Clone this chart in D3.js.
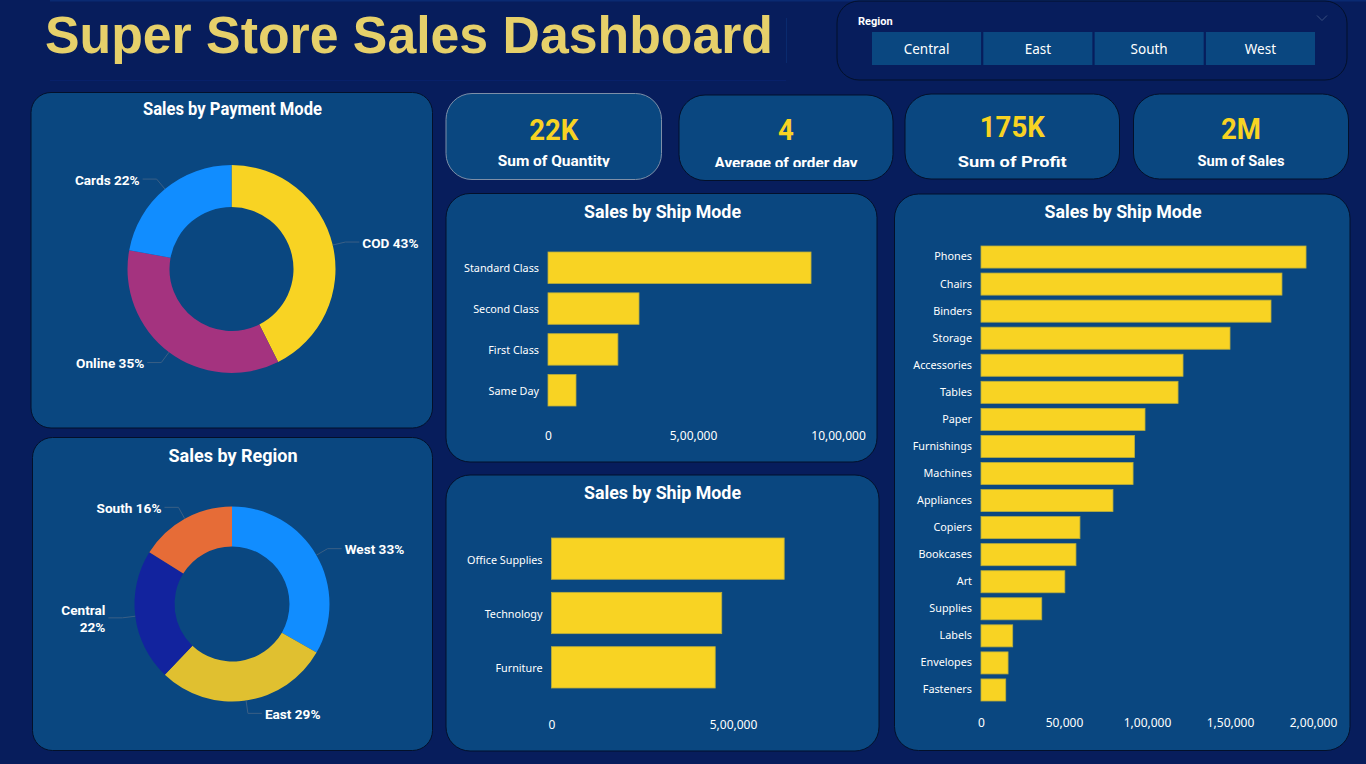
<!DOCTYPE html>
<html>
<head>
<meta charset="utf-8">
<title>Super Store Sales Dashboard</title>
<script src="https://cdn.jsdelivr.net/npm/d3@7"></script>
<style>
  html, body { margin: 0; padding: 0; background: #071d5c; overflow: hidden; }
  svg { display: block; }
  .axis text { font-family: "Noto Sans", sans-serif; fill: #ffffff; }
  .axis path, .axis line { display: none; }
</style>
</head>
<body>
<svg id="board" width="1366" height="764"></svg>
<script>
// chart data
var regionButtons = ['Central', 'East', 'South', 'West'];

var kpiValues = ['22K', '4', '175K', '2M'];
var kpiNames = ['Sum of Quantity', 'Average of order day', 'Sum of Profit', 'Sum of Sales'];

var paymentModes = ['COD', 'Online', 'Cards'];
var paymentShares = [42.6, 35.3, 22.1];

var regions = ['West', 'East', 'Central', 'South'];
var regionShares = [33.3, 28.8, 21.8, 16.1];

var shipModes = ['Standard Class', 'Second Class', 'First Class', 'Same Day'];
var shipSales = [907000, 313800, 241000, 96500];
var shipTicks = [0, 500000, 1000000];
var shipTickLabels = ['0', '5,00,000', '10,00,000'];

var categories = ['Office Supplies', 'Technology', 'Furniture'];
var categorySales = [641000, 469000, 451000];
var categoryTicks = [0, 500000];
var categoryTickLabels = ['0', '5,00,000'];

var subCategories = ['Phones', 'Chairs', 'Binders', 'Storage', 'Accessories', 'Tables', 'Paper', 'Furnishings',
  'Machines', 'Appliances', 'Copiers', 'Bookcases', 'Art', 'Supplies', 'Labels', 'Envelopes', 'Fasteners'];
var subCategorySales = [195800, 181300, 174700, 150000, 121700, 118700, 98800, 92500,
  91600, 79500, 59600, 57200, 50500, 36600, 19100, 16300, 14900];
var subCategoryTicks = [0, 50000, 100000, 150000, 200000];
var subCategoryTickLabels = ['0', '50,000', '1,00,000', '1,50,000', '2,00,000'];

// colours
var CARD = '#0a4780';
var PAGE = '#071d5c';
var YELLOW = '#f8d323';
var HEAD_FONT = 'Roboto, sans-serif';

var svg = d3.select('#board');
var defs = svg.append('defs');

function card(x0, y0, x1, y1, r, stroke) {
  svg.append('rect')
    .attr('x', x0).attr('y', y0)
    .attr('width', x1 - x0).attr('height', y1 - y0)
    .attr('rx', r).attr('ry', r)
    .attr('fill', CARD)
    .attr('stroke', stroke || '#03102a')
    .attr('stroke-width', 1);
}

function heading(text, cx, y, width) {
  svg.append('text')
    .attr('x', cx).attr('y', y)
    .attr('text-anchor', 'middle')
    .attr('font-family', HEAD_FONT)
    .attr('font-weight', 700)
    .attr('font-size', 18)
    .attr('fill', '#ffffff')
    .attr('textLength', width)
    .attr('lengthAdjust', 'spacingAndGlyphs')
    .text(text);
}

/* title strip, only faint edges show in the original */
svg.append('rect')
  .attr('x', 50).attr('y', 0).attr('width', 1316).attr('height', 1.5)
  .attr('fill', '#0a2a72');
svg.append('path')
  .attr('d', 'M50,80.5H786')
  .attr('fill', 'none').attr('stroke', '#08216a').attr('stroke-width', 1);
svg.append('path')
  .attr('d', 'M786.5,18V63')
  .attr('fill', 'none').attr('stroke', '#0a2a6e').attr('stroke-width', 1);

svg.append('text')
  .attr('x', 45).attr('y', 53)
  .attr('font-family', '"Liberation Sans", Arial, sans-serif')
  .attr('font-weight', 700)
  .attr('font-size', 51)
  .attr('fill', '#e6d06a')
  .attr('textLength', 728)
  .attr('lengthAdjust', 'spacingAndGlyphs')
  .text('Super Store Sales Dashboard');

/* region slicer */
svg.append('rect')
  .attr('x', 837).attr('y', 1).attr('width', 510).attr('height', 79)
  .attr('rx', 22).attr('ry', 22)
  .attr('fill', PAGE).attr('stroke', '#03102a');

svg.append('text')
  .attr('x', 858).attr('y', 25)
  .attr('font-family', HEAD_FONT).attr('font-weight', 700).attr('font-size', 11)
  .attr('fill', '#ffffff')
  .text('Region');

svg.append('path')
  .attr('d', 'M1317,15.5L1322,20.5L1327,15.5')
  .attr('fill', 'none').attr('stroke', '#3a5080').attr('stroke-width', 1);

var buttonX = d3.scaleBand().domain(regionButtons).range([872, 1315]).paddingInner(0.02);
regionButtons.forEach(function (name) {
  svg.append('rect')
    .attr('x', buttonX(name)).attr('y', 32)
    .attr('width', buttonX.bandwidth()).attr('height', 33)
    .attr('fill', CARD);
  svg.append('text')
    .attr('x', buttonX(name) + buttonX.bandwidth() / 2).attr('y', 54)
    .attr('text-anchor', 'middle')
    .attr('font-family', '"Noto Sans", sans-serif').attr('font-size', 13.5)
    .attr('fill', '#ffffff')
    .text(name);
});

/* kpi cards */
var kpiBoxes = [
  { x0: 446, x1: 661.5, y0: 93.5, y1: 179.5, stroke: '#7d8fa8', w: 112, vy: 140, ly: 166 },
  { x0: 679, x1: 893, y0: 95, y1: 180.5, w: 143, vy: 140, ly: 167.5 },
  { x0: 905, x1: 1119.5, y0: 94, y1: 179, w: 109, vy: 137, ly: 167 },
  { x0: 1133.5, x1: 1348.5, y0: 94, y1: 179, w: 87, vy: 139, ly: 166 }
];

kpiBoxes.forEach(function (b, i) {
  var cx = (b.x0 + b.x1) / 2;
  card(b.x0, b.y0, b.x1, b.y1, 26, b.stroke);

  // the label sits partly outside the visual in the original, so it gets cut off
  defs.append('clipPath').attr('id', 'kpi-clip-' + i)
    .append('rect')
    .attr('x', b.x0).attr('y', b.y0)
    .attr('width', b.x1 - b.x0).attr('height', 167 - b.y0);

  var value = svg.append('text')
    .attr('x', cx).attr('y', b.vy)
    .attr('text-anchor', 'middle')
    .attr('font-family', HEAD_FONT).attr('font-weight', 700).attr('font-size', 30)
    .attr('fill', YELLOW)
    .text(kpiValues[i]);
  // the original face is narrower than Roboto
  value.attr('textLength', value.node().getComputedTextLength() * 0.92)
    .attr('lengthAdjust', 'spacingAndGlyphs');

  svg.append('text')
    .attr('x', cx).attr('y', b.ly)
    .attr('clip-path', 'url(#kpi-clip-' + i + ')')
    .attr('text-anchor', 'middle')
    .attr('font-family', HEAD_FONT).attr('font-weight', 700).attr('font-size', 14)
    .attr('fill', '#ffffff')
    .attr('textLength', b.w)
    .attr('lengthAdjust', 'spacingAndGlyphs')
    .text(kpiNames[i]);
});

/* donuts */
function donut(opts) {
  var g = svg.append('g').attr('transform', 'translate(' + opts.cx + ',' + opts.cy + ')');
  var total = d3.sum(opts.values);
  var pie = d3.pie().sort(null);
  var slices = pie(opts.values);
  var arc = d3.arc().innerRadius(opts.inner).outerRadius(opts.outer);
  var edge = d3.arc().innerRadius(opts.outer).outerRadius(opts.outer);
  var bend = d3.arc().innerRadius(opts.outer + 13).outerRadius(opts.outer + 13);

  g.selectAll('path.slice').data(slices).enter().append('path')
    .attr('class', 'slice')
    .attr('d', arc)
    .attr('fill', function (d, i) { return opts.colors[i]; });

  slices.forEach(function (d, i) {
    var a = edge.centroid(d);
    var b = bend.centroid(d);
    var side = b[0] >= 0 ? 1 : -1;
    var endX = b[0] + side * 14;
    var pct = Math.round(d.value / total * 100) + '%';
    var name = opts.names[i];

    g.append('polyline')
      .attr('points', [a, b, [endX, b[1]]].join(' '))
      .attr('fill', 'none')
      .attr('stroke', '#3a5f85')
      .attr('stroke-width', 1);

    var label = g.append('text')
      .attr('x', endX + side * 3)
      .attr('y', b[1] + 1)
      .attr('text-anchor', side > 0 ? 'start' : 'end')
      .attr('font-family', HEAD_FONT).attr('font-weight', 700).attr('font-size', 13.6)
      .attr('fill', '#ffffff');

    if (name === opts.wrap) {
      label.append('tspan').attr('x', endX + side * 3).attr('dy', '-0.25em').text(name);
      label.append('tspan').attr('x', endX + side * 3).attr('dy', '1.25em').text(pct);
    } else {
      label.attr('dy', '0.35em').text(name + ' ' + pct);
    }
  });
}

card(31, 92.5, 432.5, 428, 20);
heading('Sales by Payment Mode', 232.5, 115, 179);
donut({
  cx: 231.5, cy: 269, outer: 104, inner: 62,
  names: paymentModes, values: paymentShares,
  colors: [YELLOW, '#a4337f', '#118dff']
});

card(32.5, 437.5, 432.5, 750.5, 20);
heading('Sales by Region', 233, 462, 129);
donut({
  cx: 232, cy: 604, outer: 97.5, inner: 57.5,
  names: regions, values: regionShares,
  colors: ['#118dff', '#e0c030', '#12239e', '#e66c37'],
  wrap: 'Central'
});

/* horizontal bars */
function barChart(opts) {
  var x = d3.scaleLinear().domain([0, opts.maxValue]).range([opts.x0, opts.x1]);
  var y = d3.scaleBand().domain(opts.names).range([opts.y0, opts.y1]).paddingInner(opts.pad);

  var rows = svg.append('g');
  rows.selectAll('rect').data(opts.values).enter().append('rect')
    .attr('x', opts.x0)
    .attr('y', function (d, i) { return y(opts.names[i]); })
    .attr('width', function (d) { return x(d) - opts.x0; })
    .attr('height', y.bandwidth())
    .attr('fill', YELLOW)
    .attr('stroke', '#b9ad3c')
    .attr('stroke-width', 0.8);

  var yAxis = svg.append('g')
    .attr('class', 'axis')
    .attr('transform', 'translate(' + opts.x0 + ',' + opts.labelShift + ')')
    .call(d3.axisLeft(y).tickSize(0).tickPadding(9));
  yAxis.selectAll('text').attr('font-size', 10.8);

  var xAxis = svg.append('g')
    .attr('class', 'axis')
    .attr('transform', 'translate(0,' + opts.axisY + ')')
    .call(d3.axisBottom(x)
      .tickValues(opts.ticks)
      .tickSize(0)
      .tickPadding(0)
      .tickFormat(function (d, i) { return opts.tickLabels[i]; }));
  xAxis.selectAll('text').attr('font-size', 12);
}

card(446, 193.5, 877, 462, 24);
heading('Sales by Ship Mode', 662.5, 218, 157);
barChart({
  names: shipModes, values: shipSales, ticks: shipTicks, tickLabels: shipTickLabels,
  maxValue: 1000000, x0: 548, x1: 838, y0: 252, y1: 406, pad: 0.23, axisY: 431, labelShift: 1
});

card(446, 475, 879, 751, 24);
heading('Sales by Ship Mode', 662.5, 499, 157);
barChart({
  names: categories, values: categorySales, ticks: categoryTicks, tickLabels: categoryTickLabels,
  maxValue: 500000, x0: 551.5, x1: 733, y0: 538, y1: 688, pad: 0.24, axisY: 720, labelShift: 1.5
});

card(894.5, 194, 1350, 750.5, 24);
heading('Sales by Ship Mode', 1123, 218, 157);
barChart({
  names: subCategories, values: subCategorySales, ticks: subCategoryTicks, tickLabels: subCategoryTickLabels,
  maxValue: 200000, x0: 981, x1: 1313, y0: 246, y1: 701, pad: 0.185, axisY: 718, labelShift: 0
});
</script>
</body>
</html>
